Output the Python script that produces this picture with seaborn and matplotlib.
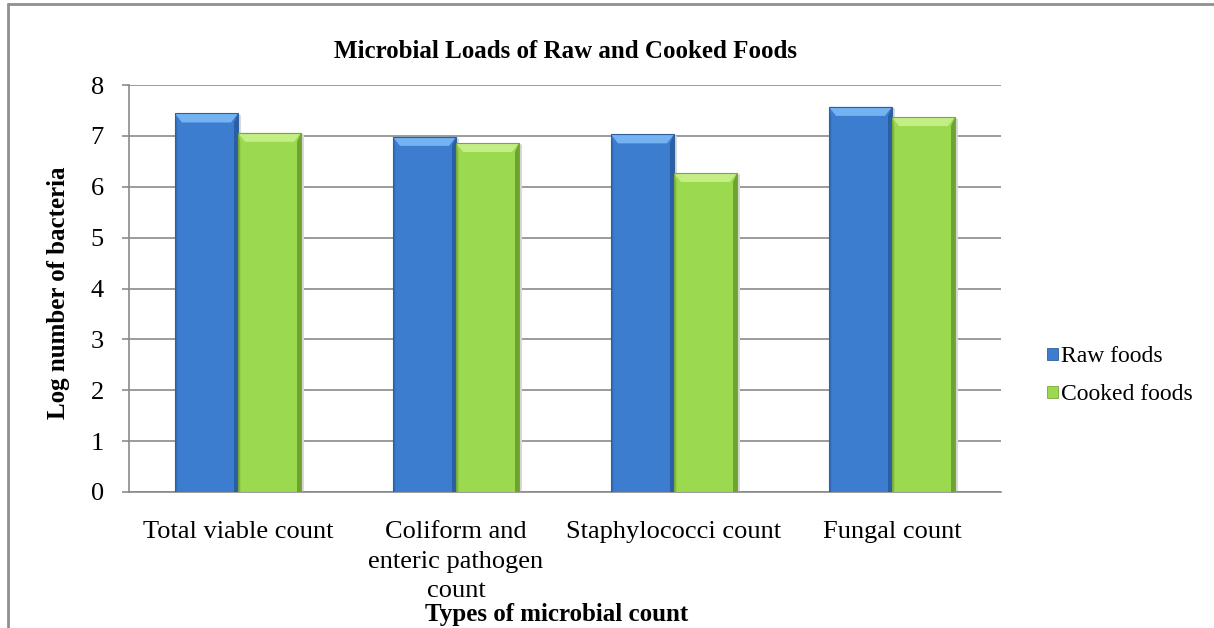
import numpy as np
import pandas as pd
import matplotlib
matplotlib.use("Agg")
import matplotlib.pyplot as plt
import seaborn as sns
from matplotlib.patches import Polygon, Patch
from matplotlib.lines import Line2D

# Chart data
categories = [
    "Total viable count",
    "Coliform and\nenteric pathogen\ncount",
    "Staphylococci count",
    "Fungal count",
]
series_names = ["Raw foods", "Cooked foods"]
raw_foods = [7.44, 6.98, 7.03, 7.57]
cooked_foods = [7.06, 6.86, 6.27, 7.37]
y_ticks = [0, 1, 2, 3, 4, 5, 6, 7, 8]

title_text = "Microbial Loads of Raw and Cooked Foods"
x_title = "Types of microbial count"
y_title = "Log number of bacteria"

df = pd.DataFrame({
    "category": categories * 2,
    "series": [series_names[0]] * len(categories) + [series_names[1]] * len(categories),
    "value": raw_foods + cooked_foods,
})

# Bar styling: base, bevel-top, dark-side colours per series
styles = {
    series_names[0]: dict(base="#3d7dd0", top="#74b2f2", side="#2a5c9e", edge="#2f5f9c"),
    series_names[1]: dict(base="#9bd94f", top="#c3ee86", side="#6b9d2e", edge="#79a83a"),
}
grid_gray = "#8a8a8a"

sns.set_theme(style="white")
plt.rcParams["font.family"] = ["Liberation Serif", "DejaVu Serif"]
plt.rcParams["text.color"] = "black"
plt.rcParams["axes.labelcolor"] = "black"
plt.rcParams["xtick.color"] = "black"
plt.rcParams["ytick.color"] = "black"
fs_title = 18
fs_tick = 19
fs_legend = 17

fig = plt.figure(figsize=(12.14, 6.28), dpi=100)
ax = fig.add_axes([129 / 1214, 1 - 492 / 628, 872 / 1214, 407 / 628])

sns.barplot(
    data=df, x="category", y="value", hue="series",
    palette=[styles[s]["base"] for s in series_names],
    width=0.578, saturation=1, legend=False, ax=ax,
    linewidth=0, zorder=3,
)

ax.set_xlim(-0.5, len(categories) - 0.5)
ax.set_ylim(y_ticks[0], y_ticks[-1])
ax.set_yticks(y_ticks)
ax.set_yticklabels([str(t) for t in y_ticks], fontsize=fs_tick)
ax.set_xticks(range(len(categories)))
ax.set_xticklabels(categories, fontsize=fs_tick, linespacing=1.45)
ax.set_xlabel("")
ax.set_ylabel("")

ax.yaxis.grid(True, color=grid_gray, linewidth=1.2, zorder=0)
ax.set_axisbelow(True)
for side in ["top", "right"]:
    ax.spines[side].set_visible(False)
for side in ["left", "bottom"]:
    ax.spines[side].set_color(grid_gray)
    ax.spines[side].set_linewidth(1.2)
ax.tick_params(axis="y", which="major", left=True, length=5, width=1.2,
               color=grid_gray, pad=13, labelcolor="black")
ax.tick_params(axis="x", which="major", bottom=False, length=0, pad=21,
               labelcolor="black")

# Bevel shading on each bar
fig.canvas.draw()
bbox = ax.get_window_extent()
px_per_x = bbox.width / (ax.get_xlim()[1] - ax.get_xlim()[0])
px_per_y = bbox.height / (ax.get_ylim()[1] - ax.get_ylim()[0])
bev_x = 7 / px_per_x
bev_y = 9 / px_per_y
side_x = 4 / px_per_x

n = len(categories)
bars = list(ax.patches)
for i, bar in enumerate(bars):
    st = styles[series_names[i // n]]
    x0, w = bar.get_x(), bar.get_width()
    h = bar.get_height()
    x1 = x0 + w
    # soft drop shadow to the right
    ax.add_patch(Polygon([(x1, 0), (x1 + 3 / px_per_x, 0), (x1 + 3 / px_per_x, h - 2 / px_per_y), (x1, h)],
                         closed=True, facecolor="#d9d9d9", edgecolor="none", zorder=2.5))
    # right dark side
    ax.add_patch(Polygon([(x1, h), (x1 - side_x, h - bev_y), (x1 - side_x, 0), (x1, 0)],
                         closed=True, facecolor=st["side"], edgecolor="none", zorder=3.2, alpha=0.9))
    # left slightly dark side
    ax.add_patch(Polygon([(x0, h), (x0 + side_x * 0.6, h - bev_y), (x0 + side_x * 0.6, 0), (x0, 0)],
                         closed=True, facecolor=st["side"], edgecolor="none", zorder=3.2, alpha=0.45))
    # lighter top bevel
    ax.add_patch(Polygon([(x0, h), (x1, h), (x1 - bev_x, h - bev_y), (x0 + bev_x, h - bev_y)],
                         closed=True, facecolor=st["top"], edgecolor="none", zorder=3.3))
    # thin outline
    ax.add_patch(Polygon([(x0, 0), (x0, h), (x1, h), (x1, 0)], closed=True,
                         facecolor="none", edgecolor=st["edge"], linewidth=0.8, zorder=3.4))

# Titles
fig.text(565 / 1214, 1 - 51 / 628, title_text, ha="center", va="center",
         fontsize=fs_title, fontweight="bold")
fig.text(58 / 1214, 1 - 293 / 628, y_title, ha="center", va="center",
         rotation=90, fontsize=fs_title, fontweight="bold")
fig.text(557 / 1214, 1 - 615 / 628, x_title, ha="center", va="center",
         fontsize=fs_title, fontweight="bold")

# Legend
handles = [Patch(facecolor=styles[s]["base"], edgecolor=styles[s]["edge"], linewidth=0.6)
           for s in series_names]
fig.legend(handles, series_names, loc="center left",
           bbox_to_anchor=(1047 / 1214, 1 - 376 / 628), frameon=False,
           fontsize=fs_legend, handlelength=0.45, handleheight=0.45,
           handletextpad=0.15, labelspacing=0.72, borderpad=0, borderaxespad=0)

# Outer frame (top and left edges)
fig.add_artist(Line2D([8 / 1214, 1.0], [1 - 4 / 628, 1 - 4 / 628],
                      transform=fig.transFigure, color="#8f8f8f", linewidth=2))
fig.add_artist(Line2D([8 / 1214, 8 / 1214], [0, 1 - 4 / 628],
                      transform=fig.transFigure, color="#8f8f8f", linewidth=2))

fig.savefig("out.png", dpi=100)
